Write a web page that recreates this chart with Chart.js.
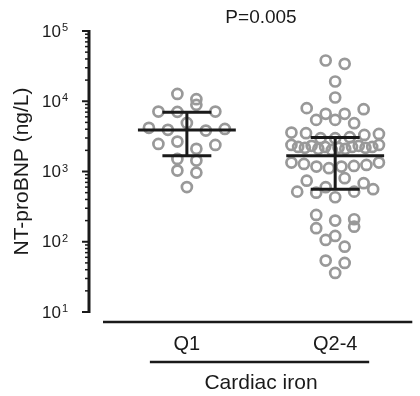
<!DOCTYPE html>
<html>
<head>
<meta charset="utf-8">
<script src="https://cdn.jsdelivr.net/npm/chart.js@4.4.0/dist/chart.umd.min.js"></script>
<style>
  html, body { margin: 0; padding: 0; background: #fff; }
  #wrap { width: 420px; height: 396px; }
</style>
</head>
<body>
<div id="wrap"><canvas id="dotChart"></canvas></div>
<script>
// categories and values (NT-proBNP, ng/L), read row by row, left to right
const groups = ['Q1', 'Q2-4'];
const q1Values = [12700, 10700,
    7130, 7060, 8900, 7130,
    4180, 3920, 4920, 3830, 4040,
    2470, 2670, 2100, 2390,
    1510, 1430,
    1030, 964,
    600];
const q2Values = [38000, 34100,
    19100,
    11300,
    7980, 6620, 6620, 7710,
    5430, 5430, 4880,
    3580, 3510, 2980, 2980, 3080, 3320, 3430,
    2390, 2240, 2170, 2320, 2100, 2240, 2030, 2170, 2100, 2240, 2320, 2170, 2240, 2390,
    1340, 1280, 1175, 1115, 1175, 1200, 1240, 1340,
    741, 598, 517, 500, 803, 430, 517, 560, 681,
    241, 200, 209,
    156, 121, 164,
    106, 85,
    54, 50,
    36];
// median and interquartile range per group
const medians = [3900, 1670];
const upperQ = [7000, 3040];
const lowerQ = [1670, 560];
const yTicks = [10, 100, 1000, 10000, 100000];
const pLabel = 'P=0.005';
const xTitle = 'Cardiac iron';
const yTitle = 'NT-proBNP (ng/L)';

const FONT = '"Liberation Sans", Arial, Helvetica, sans-serif';
const INK = '#1a1a1a';

// spread points of similar value side by side (GraphPad style rows)
function swarm(values, groupIndex) {
    const binSize = 0.15, gap = 0.128, maxSpread = 0.59;
    const order = values.map((v, i) => i).sort((a, b) => values[b] - values[a]);
    const bins = [];
    let cur = null;
    order.forEach(i => {
        const lv = Math.log10(values[i]);
        if (!cur || cur.start - lv > binSize) {
            cur = { start: lv, items: [] };
            bins.push(cur);
        }
        cur.items.push(i);
    });
    const pts = [];
    bins.forEach(b => {
        b.items.sort((a, c) => a - c);
        const n = b.items.length;
        const step = n > 1 ? Math.min(gap, maxSpread / (n - 1)) : 0;
        b.items.forEach((i, k) => pts.push({ x: groupIndex + (k - (n - 1) / 2) * step, y: values[i] }));
    });
    return pts;
}

const overlay = {
    id: 'overlay',
    afterDatasetsDraw(chart) {
        const { ctx, chartArea, scales: { x, y } } = chart;
        ctx.save();
        ctx.strokeStyle = INK;
        ctx.fillStyle = INK;

        // median + IQR bars
        medians.forEach((m, i) => {
            const cx = x.getPixelForValue(i);
            const my = y.getPixelForValue(m);
            const uy = y.getPixelForValue(upperQ[i]);
            const ly = y.getPixelForValue(lowerQ[i]);
            const halfMed = x.getPixelForValue(i + 0.33) - cx;
            const halfCap = x.getPixelForValue(i + 0.165) - cx;
            ctx.lineWidth = 3;
            ctx.beginPath();
            ctx.moveTo(cx - halfMed, my); ctx.lineTo(cx + halfMed, my);
            ctx.moveTo(cx - halfCap, uy); ctx.lineTo(cx + halfCap, uy);
            ctx.moveTo(cx - halfCap, ly); ctx.lineTo(cx + halfCap, ly);
            ctx.moveTo(cx, uy); ctx.lineTo(cx, ly);
            ctx.stroke();
        });

        // y axis
        const ax = chartArea.left;
        const top = y.getPixelForValue(yTicks[yTicks.length - 1]);
        const bot = y.getPixelForValue(yTicks[0]);
        ctx.lineWidth = 3;
        ctx.beginPath();
        ctx.moveTo(ax, top - 1); ctx.lineTo(ax, bot + 1);
        ctx.stroke();
        yTicks.forEach((t, k) => {
            const py = y.getPixelForValue(t);
            ctx.lineWidth = 2;
            ctx.beginPath();
            ctx.moveTo(ax - 7, py); ctx.lineTo(ax, py);
            ctx.stroke();
            if (k < yTicks.length - 1) {
                ctx.lineWidth = 1.5;
                for (let m = 2; m <= 9; m++) {
                    const my = y.getPixelForValue(t * m);
                    ctx.beginPath();
                    ctx.moveTo(ax - 4, my); ctx.lineTo(ax, my);
                    ctx.stroke();
                }
            }
            const exp = String(Math.round(Math.log10(t)));
            ctx.font = '17px ' + FONT;
            ctx.textAlign = 'right';
            ctx.textBaseline = 'middle';
            ctx.fillText('10', ax - 28, py + 1);
            ctx.font = '11px ' + FONT;
            ctx.textAlign = 'left';
            ctx.textBaseline = 'alphabetic';
            ctx.fillText(exp, ax - 27, py);
        });

        // y title
        ctx.save();
        ctx.translate(22, (top + bot) / 2);
        ctx.rotate(-Math.PI / 2);
        ctx.font = '21px ' + FONT;
        ctx.textAlign = 'center';
        ctx.textBaseline = 'middle';
        ctx.fillText(yTitle, 0, 0);
        ctx.restore();

        // x axis (offset below the plot)
        const xLineY = bot + 10;
        ctx.lineWidth = 2.5;
        ctx.beginPath();
        ctx.moveTo(ax + 14, xLineY); ctx.lineTo(chartArea.right, xLineY);
        ctx.stroke();
        ctx.font = '20px ' + FONT;
        ctx.textAlign = 'center';
        ctx.textBaseline = 'middle';
        groups.forEach((g, i) => ctx.fillText(g, x.getPixelForValue(i), xLineY + 22));

        // grouping bracket + title
        const x0 = x.getPixelForValue(0), x1 = x.getPixelForValue(groups.length - 1);
        ctx.lineWidth = 2.5;
        ctx.beginPath();
        ctx.moveTo(x0 - 37, xLineY + 40); ctx.lineTo(x1 + 34, xLineY + 40);
        ctx.stroke();
        ctx.font = '21px ' + FONT;
        ctx.fillText(xTitle, (x0 + x1) / 2, xLineY + 61);

        // p value
        ctx.font = '19px ' + FONT;
        ctx.fillText(pLabel, (x0 + x1) / 2, 18);
        ctx.restore();
    }
};

const dotStyle = {
    showLine: false,
    pointRadius: 5,
    pointHoverRadius: 5,
    pointBorderWidth: 2.7,
    pointBorderColor: '#999999',
    pointBackgroundColor: 'rgba(0,0,0,0)'
};

const ctx = document.getElementById('dotChart').getContext('2d');
new Chart(ctx, {
    type: 'scatter',
    data: {
        datasets: [
            Object.assign({ label: groups[0], data: swarm(q1Values, 0) }, dotStyle),
            Object.assign({ label: groups[1], data: swarm(q2Values, 1) }, dotStyle)
        ]
    },
    options: {
        responsive: true,
        maintainAspectRatio: false,
        animation: false,
        layout: { padding: { left: 89, right: 0, top: 31, bottom: 84 } },
        scales: {
            x: { type: 'linear', display: false, min: -0.66, max: 1.52 },
            y: { type: 'logarithmic', display: false, min: 10, max: 100000 }
        },
        plugins: {
            legend: { display: false },
            tooltip: { enabled: false }
        }
    },
    plugins: [overlay]
});
</script>
</body>
</html>
